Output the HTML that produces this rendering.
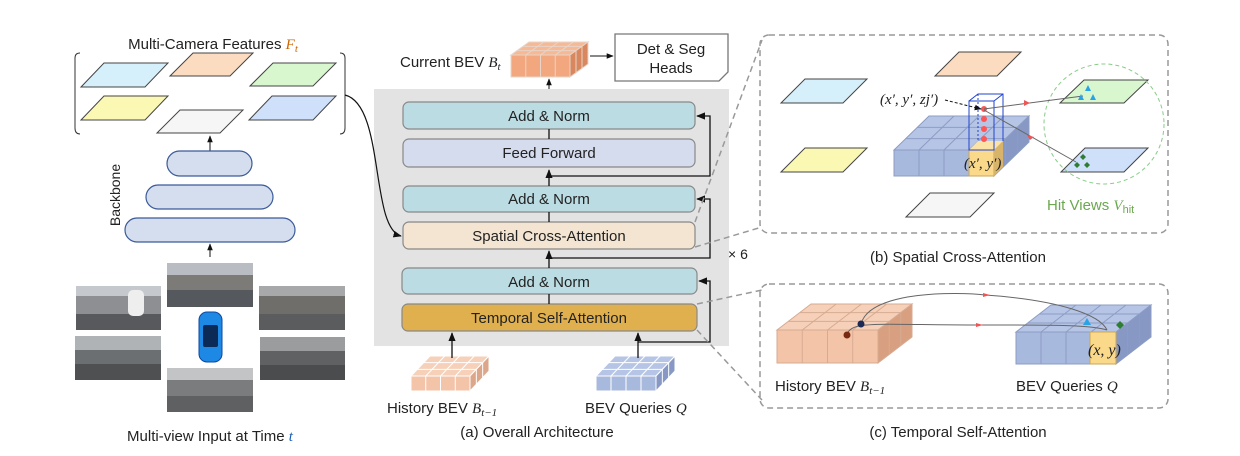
<!DOCTYPE html>
<html><head><meta charset="utf-8"><style>
html,body{margin:0;padding:0;background:#fff}
svg{display:block;font-family:"Liberation Sans",sans-serif}
text{fill:#222}
.i{font-family:"Liberation Serif",serif;font-style:italic}
</style></head><body>
<svg id="s" width="1240" height="456" viewBox="0 0 1240 456" xmlns="http://www.w3.org/2000/svg">
<defs>
<marker id="a" viewBox="0 0 10 10" refX="9" refY="5" markerWidth="7" markerHeight="7" orient="auto"><path d="M0,1 L10,5 L0,9 z" fill="#111"/></marker>
<marker id="r" viewBox="0 0 10 10" refX="5" refY="5" markerWidth="6" markerHeight="6" orient="auto"><path d="M0,2 L10,5 L0,8 z" fill="#e55"/></marker>
</defs>
<!-- LEFT -->
<text x="213" y="49" font-size="15" text-anchor="middle">Multi-Camera Features <tspan class="i" fill="#c60">F</tspan><tspan class="i" font-size="11" dy="3" fill="#c60">t</tspan></text>
<path d="M80,53 Q75,53 75,58 L75,128 Q75,134 80,134" fill="none" stroke="#333"/>
<path d="M340,53 Q345,53 345,58 L345,128 Q345,134 340,134" fill="none" stroke="#333"/>
<g stroke="#444" stroke-width="1">
<polygon points="81,87 104,63 168,63 145,87" fill="#d6f0fb"/>
<polygon points="170,76 193,53 253,53 230,76" fill="#fbdcc0"/>
<polygon points="250,86 273,63 336,63 313,86" fill="#d9f7cf"/>
<polygon points="81,120 104,96 168,96 145,120" fill="#fbf8b3"/>
<polygon points="157,133 180,110 243,110 220,133" fill="#f6f6f6"/>
<polygon points="249,120 272,96 336,96 313,120" fill="#cfe0fb"/>
</g>
<line x1="210" y1="152" x2="210" y2="136" stroke="#111" marker-end="url(#a)"/>
<g fill="#d5deee" stroke="#3a5a9a" stroke-width="1.2">
<rect x="167" y="151" width="85" height="25" rx="12.5"/>
<rect x="146" y="185" width="127" height="24" rx="12"/>
<rect x="125" y="218" width="170" height="24" rx="12"/>
</g>
<line x1="210" y1="257" x2="210" y2="244" stroke="#111" marker-end="url(#a)"/>
<text transform="translate(120,195) rotate(-90)" font-size="14" text-anchor="middle">Backbone</text>
<g>
<rect x="167" y="263" width="86" height="44" fill="#7d7b78"/><rect x="167" y="290" width="86" height="17" fill="#55585c"/><rect x="167" y="263" width="86" height="12" fill="#b9bcc2"/>
<rect x="76" y="286" width="85" height="44" fill="#8d8f92"/><rect x="76" y="314" width="85" height="16" fill="#57595c"/><rect x="76" y="286" width="85" height="10" fill="#c5c8cc"/><rect x="128" y="290" width="16" height="26" rx="5" fill="#eee"/>
<rect x="259" y="286" width="86" height="44" fill="#6f6e6a"/><rect x="259" y="314" width="86" height="16" fill="#5a5c5e"/><rect x="259" y="286" width="86" height="10" fill="#a6a8aa"/>
<rect x="75" y="336" width="86" height="44" fill="#6c6f72"/><rect x="75" y="364" width="86" height="16" fill="#4e5052"/><rect x="75" y="336" width="86" height="14" fill="#b0b3b6"/>
<rect x="260" y="337" width="85" height="43" fill="#5f6163"/><rect x="260" y="365" width="85" height="15" fill="#4a4c4e"/><rect x="260" y="337" width="85" height="14" fill="#9a9c9e"/>
<rect x="167" y="368" width="86" height="44" fill="#7a7c7e"/><rect x="167" y="396" width="86" height="16" fill="#5e6062"/><rect x="167" y="368" width="86" height="12" fill="#c2c4c6"/>
<rect x="199" y="312" width="23" height="50" rx="8" fill="#1e88e5" stroke="#0d47a1"/><rect x="203" y="325" width="15" height="22" rx="2" fill="#0b2a55"/>
</g>
<text x="210" y="441" font-size="15" text-anchor="middle" fill="#333">Multi-view Input at Time <tspan class="i" fill="#1a5fb4">t</tspan></text>

<!-- CENTER -->
<rect x="374" y="89" width="355" height="257" fill="#e3e3e3"/>
<path d="M345,95 C385,105 370,228 401,236" fill="none" stroke="#111" stroke-width="1.2" marker-end="url(#a)"/>
<g id="cubes"></g>
<text x="400" y="67" font-size="15">Current BEV <tspan class="i">B</tspan><tspan class="i" font-size="11" dy="3">t</tspan></text>
<line x1="590" y1="56" x2="613" y2="56" stroke="#111" marker-end="url(#a)"/>
<path d="M615,34 L728,34 L728,72 L719,81 L615,81 Z" fill="#fff" stroke="#777" stroke-width="1.3"/>
<text x="671" y="54" font-size="15" text-anchor="middle">Det &amp; Seg</text>
<text x="671" y="73" font-size="15" text-anchor="middle">Heads</text>
<line x1="549" y1="89" x2="549" y2="79" stroke="#111" marker-end="url(#a)"/>
<g stroke="#888" stroke-width="1.2">
<rect x="403" y="102" width="292" height="27" rx="6" fill="#bcdce3"/>
<rect x="403" y="139" width="292" height="28" rx="6" fill="#d5dcee"/>
<rect x="403" y="186" width="292" height="26" rx="6" fill="#bcdce3"/>
<rect x="403" y="222" width="292" height="27" rx="6" fill="#f3e5d1"/>
<rect x="402" y="268" width="295" height="26" rx="6" fill="#bcdce3"/>
<rect x="402" y="304" width="295" height="27" rx="6" fill="#e1b04e"/>
</g>
<g font-size="15" text-anchor="middle">
<text x="549" y="121">Add &amp; Norm</text>
<text x="549" y="158">Feed Forward</text>
<text x="549" y="204">Add &amp; Norm</text>
<text x="549" y="241">Spatial Cross-Attention</text>
<text x="549" y="287">Add &amp; Norm</text>
<text x="549" y="323">Temporal Self-Attention</text>
</g>
<g stroke="#111" fill="none" stroke-width="1.3">
<line x1="549" y1="129" x2="549" y2="139"/><line x1="549" y1="212" x2="549" y2="222"/><line x1="549" y1="294" x2="549" y2="304"/>
<line x1="549" y1="186" x2="549" y2="170" marker-end="url(#a)"/>
<line x1="549" y1="268" x2="549" y2="251" marker-end="url(#a)"/>
<polyline points="549,176 710,176 710,116 697,116" marker-end="url(#a)"/>
<polyline points="549,258 710,258 710,199 697,199" marker-end="url(#a)"/>
<polyline points="638,342 710,342 710,281 699,281" marker-end="url(#a)"/>
<line x1="452" y1="358" x2="452" y2="333" marker-end="url(#a)"/>
<line x1="638" y1="358" x2="638" y2="333" marker-end="url(#a)"/>
</g>
<text x="728" y="259" font-size="14">× 6</text>
<text x="387" y="413" font-size="15">History BEV <tspan class="i">B</tspan><tspan class="i" font-size="11" dy="3">t−1</tspan></text>
<text x="585" y="413" font-size="15">BEV Queries <tspan class="i">Q</tspan></text>
<text x="537" y="437" font-size="15" text-anchor="middle" fill="#333">(a) Overall Architecture</text>
<g stroke="#999" stroke-dasharray="6,4" stroke-width="1.5" fill="none">
<line x1="695" y1="222" x2="762" y2="40"/>
<line x1="695" y1="247" x2="762" y2="227"/>
<line x1="697" y1="304" x2="762" y2="290"/>
<line x1="697" y1="330" x2="762" y2="400"/>
</g>

<!-- (b) -->
<rect x="760" y="35" width="408" height="198" rx="9" fill="none" stroke="#999" stroke-dasharray="6,4" stroke-width="1.5"/>
<g stroke="#444">
<polygon points="781,103 805,79 867,79 843,103" fill="#d6f0fb"/>
<polygon points="935,76 959,52 1021,52 997,76" fill="#fbdcc0"/>
<polygon points="781,172 805,148 867,148 843,172" fill="#fbf8b3"/>
<polygon points="906,217 930,193 994,193 970,217" fill="#f6f6f6"/>
<polygon points="1060,103 1084,80 1148,80 1124,103" fill="#d9f7cf"/>
<polygon points="1061,172 1085,148 1148,148 1124,172" fill="#cfe0fb"/>
</g>
<circle cx="1104" cy="124" r="60" fill="none" stroke="#8c8" stroke-dasharray="4,3"/>
<text x="1047" y="210" font-size="15" fill="#6a4" style="fill:#6aa84f">Hit Views <tspan class="i" style="fill:#6aa84f">V</tspan><tspan font-size="11" dy="3" style="fill:#6aa84f">hit</tspan></text>
<text x="958" y="262" font-size="15" text-anchor="middle" fill="#333">(b) Spatial Cross-Attention</text>
<!-- (c) -->
<rect x="760" y="284" width="408" height="124" rx="9" fill="none" stroke="#999" stroke-dasharray="6,4" stroke-width="1.5"/>
<text x="775" y="391" font-size="15">History BEV <tspan class="i">B</tspan><tspan class="i" font-size="11" dy="3">t−1</tspan></text>
<text x="1016" y="391" font-size="15">BEV Queries <tspan class="i">Q</tspan></text>
<text x="958" y="437" font-size="15" text-anchor="middle" fill="#333">(c) Temporal Self-Attention</text>
<g id="over"></g>
</svg>
<script>
var NS="http://www.w3.org/2000/svg";
function el(p,t,a){var e=document.createElementNS(NS,t);for(var k in a)e.setAttribute(k,a[k]);p.appendChild(e);return e;}
function cube(g,x,y,w,h,dx,dy,cols,rows,fc,tc,sc,st){
 el(g,"polygon",{points:[x,y,x+w,y,x+w+dx,y-dy,x+dx,y-dy].join(" "),fill:tc,stroke:st});
 el(g,"polygon",{points:[x+w,y,x+w+dx,y-dy,x+w+dx,y-dy+h,x+w,y+h].join(" "),fill:sc,stroke:st});
 el(g,"rect",{x:x,y:y,width:w,height:h,fill:fc,stroke:st});
 for(var i=1;i<cols;i++){var xx=x+w*i/cols;el(g,"line",{x1:xx,y1:y,x2:xx,y2:y+h,stroke:st});el(g,"line",{x1:xx,y1:y,x2:xx+dx,y2:y-dy,stroke:st});}
 for(var j=1;j<rows;j++){var f=j/rows;el(g,"line",{x1:x+dx*f,y1:y-dy*f,x2:x+w+dx*f,y2:y-dy*f,stroke:st});
  el(g,"line",{x1:x+w+dx*f,y1:y-dy*f,x2:x+w+dx*f,y2:y-dy*f+h,stroke:st});}
}
var g=document.getElementById("cubes");
cube(g,511,55,59,22,18,13,4,3,"#f2a77e","#f6b993","#d8875e","#e8d4c8");
cube(g,411,376,59,15,19,20,4,3,"#f3c4a8","#f6d0b8","#dba68a","#fff");
cube(g,596,376,60,15,19,20,4,3,"#a8b9de","#b6c5e6","#8798c4","#fff");
var o=document.getElementById("over");
cube(o,894,150,100,26,35,34,4,3,"#a8b9de","#b6c5e6","#8798c4","#8c9cc4");
el(o,"polygon",{points:"969,150 994,150 994,176 969,176",fill:"#fbd98a",stroke:"#c9a656"});
el(o,"polygon",{points:"994,150 1003,141 1003,167 994,176",fill:"#d8b46a"});
el(o,"polygon",{points:"969,150 994,150 1003,141 978,141",fill:"#fbe3a8"});
el(o,"rect",{x:969,y:101,width:25,height:49,fill:"none",stroke:"#2244cc"});
el(o,"polyline",{points:"969,101 978,94 1003,94 1003,141",fill:"none",stroke:"#2244cc"});
el(o,"line",{x1:994,y1:101,x2:1003,y2:94,stroke:"#2244cc"});
el(o,"line",{x1:978,y1:94,x2:978,y2:141,stroke:"#2244cc","stroke-dasharray":"2,2"});
[109,119,129,139].forEach(function(y){el(o,"circle",{cx:984,cy:y,r:3,fill:"#f55"});});
el(o,"path",{d:"M1083,96 L984,109",stroke:"#666",fill:"none"});
el(o,"path",{d:"M1076,162 L984,110",stroke:"#666",fill:"none"});
el(o,"polygon",{points:"1030,103 1024,100 1024,106",fill:"#e55"});
el(o,"polygon",{points:"1034,137 1027,135 1030,140",fill:"#e55"});
el(o,"path",{d:"M945,100 L981,109",stroke:"#111","stroke-dasharray":"3,2",fill:"none","marker-end":"url(#a)"});
[[1088,88],[1081,97],[1093,97]].forEach(function(p){el(o,"polygon",{points:(p[0]-3)+","+(p[1]+3)+" "+p[0]+","+(p[1]-3)+" "+(p[0]+3)+","+(p[1]+3),fill:"#29a3e8"});});
[[1083,157],[1077,165],[1087,165]].forEach(function(p){el(o,"polygon",{points:(p[0]-3)+","+p[1]+" "+p[0]+","+(p[1]-3)+" "+(p[0]+3)+","+p[1]+" "+p[0]+","+(p[1]+3),fill:"#2e7d32"});});
var t=el(o,"text",{x:880,y:104,"font-size":"15","class":"i"});t.textContent="(x′, y′, zj′)";
t=el(o,"text",{x:964,y:168,"font-size":"15","class":"i"});t.textContent="(x′, y′)";
// (c)
cube(o,777,330,101,33,34,26,4,3,"#f3c4a8","#f6d0b8","#d8a080","#d6ab92");
cube(o,1016,332,100,32,35,27,4,3,"#a8b9de","#b6c5e6","#8798c4","#8c9cc4");
el(o,"rect",{x:1090,y:332,width:26,height:32,fill:"#fbd98a",stroke:"#c9a656"});
el(o,"path",{d:"M861,324 C870,290 960,292 985,295 C1060,300 1100,315 1107,330",stroke:"#666",fill:"none"});
el(o,"path",{d:"M847,335 C850,320 880,325 980,325 C1060,325 1090,325 1107,330",stroke:"#666",fill:"none"});
el(o,"polygon",{points:"983,297 990,295 983,293",fill:"#e55"});
el(o,"polygon",{points:"976,327 983,325 976,323",fill:"#e55"});
el(o,"circle",{cx:861,cy:324,r:3.5,fill:"#1a2a55"});
el(o,"circle",{cx:847,cy:335,r:3.5,fill:"#7a2a10"});
el(o,"polygon",{points:"1083,325 1087,318 1091,325",fill:"#29a3e8"});
el(o,"polygon",{points:"1116,325 1120,321 1124,325 1120,329",fill:"#2e7d32"});
t=el(o,"text",{x:1088,y:355,"font-size":"16","class":"i"});t.textContent="(x, y)";
</script>
</body></html>
